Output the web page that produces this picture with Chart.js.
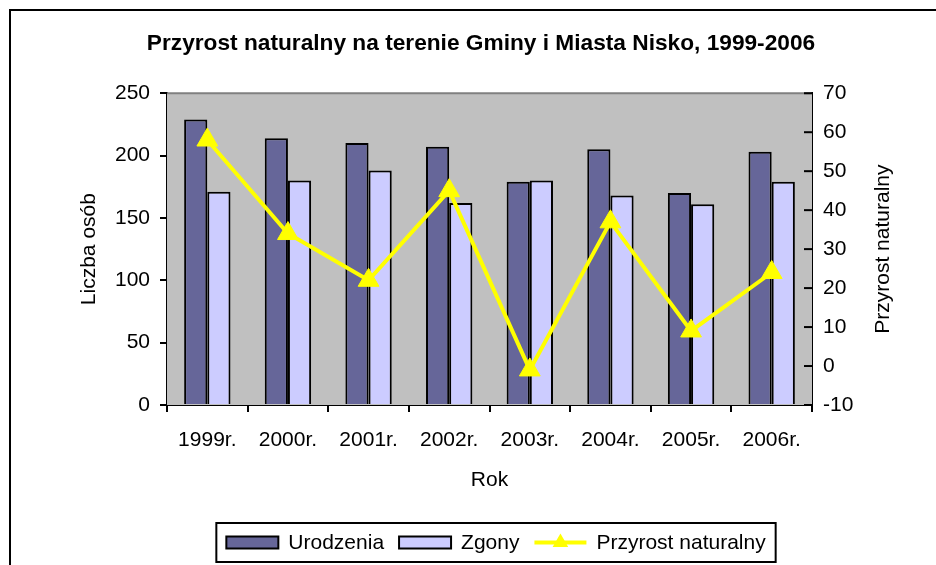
<!DOCTYPE html>
<html>
<head>
<meta charset="utf-8">
<script src="https://cdn.jsdelivr.net/npm/chart.js@4.4.1/dist/chart.umd.min.js"></script>
<style>
html, body { margin: 0; padding: 0; background: #fff; }
#wrap { width: 936px; height: 565px; }
</style>
</head>
<body>
<div id="wrap"><canvas id="chart" width="936" height="565"></canvas></div>
<script>
// dane
const years = ['1999r.', '2000r.', '2001r.', '2002r.', '2003r.', '2004r.', '2005r.', '2006r.'];
const urodzenia = [229, 214, 210, 207, 179, 205, 170, 203];
const zgony = [171, 180, 188, 162, 180, 168, 161, 179];
const przyrost = [58, 34, 22, 45, -1, 37, 9, 24];

const leftMin = 0, leftMax = 250, leftStep = 50;
const rightMin = -10, rightMax = 70, rightStep = 10;

const FONT = '"Liberation Sans", Arial, sans-serif';
Chart.defaults.font.family = FONT;
Chart.defaults.font.size = 21;
Chart.defaults.color = '#000';

// tlo, ramka, tytul prawej osi i legenda
const excelLook = {
    id: 'excelLook',
    beforeDatasetsDraw(chart) {
        const {ctx, chartArea: a} = chart;
        ctx.save();
        ctx.fillStyle = '#C0C0C0';
        ctx.fillRect(a.left, a.top, a.right - a.left, a.bottom - a.top);
        ctx.strokeStyle = '#808080';
        ctx.lineWidth = 2;
        ctx.beginPath();
        ctx.moveTo(a.left, a.top);
        ctx.lineTo(a.right, a.top);
        ctx.stroke();
        // kreski prawej osi do srodka
        const y1 = chart.scales.y1;
        ctx.strokeStyle = '#000';
        ctx.lineWidth = 2;
        y1.ticks.forEach(t => {
            const py = y1.getPixelForValue(t.value);
            ctx.beginPath();
            ctx.moveTo(a.right - 8, py);
            ctx.lineTo(a.right, py);
            ctx.stroke();
        });
        ctx.restore();
    },
    afterDraw(chart) {
        const {ctx, chartArea: a} = chart;
        ctx.save();
        // ramka zewnetrzna
        ctx.strokeStyle = '#000';
        ctx.lineWidth = 2;
        ctx.strokeRect(10, 10, chart.width + 20, chart.height + 20);

        // tytul prawej osi (czytany od dolu)
        ctx.font = '21px ' + FONT;
        ctx.fillStyle = '#000';
        ctx.textAlign = 'center';
        ctx.textBaseline = 'middle';
        ctx.translate(883, (a.top + a.bottom) / 2);
        ctx.rotate(-Math.PI / 2);
        ctx.fillText('Przyrost naturalny', 0, 0);
        ctx.restore();

        // legenda
        ctx.save();
        ctx.font = '21px ' + FONT;
        const ds = chart.data.datasets;
        const symW = 52, gapText = 10, gapItem = 15, padX = 10;
        let total = padX * 2;
        ds.forEach((d, i) => {
            total += symW + gapText + ctx.measureText(d.label).width + (i ? gapItem : 0);
        });
        const cx = 496, top = 523, h = 39, cy = top + h / 2;
        let x = cx - total / 2;
        ctx.strokeStyle = '#000';
        ctx.lineWidth = 2;
        ctx.strokeRect(x, top, total, h);
        x += padX;
        ds.forEach((d, i) => {
            if (i) x += gapItem;
            if (d.type === 'line') {
                ctx.strokeStyle = d.borderColor;
                ctx.lineWidth = 4;
                ctx.beginPath();
                ctx.moveTo(x, cy);
                ctx.lineTo(x + symW, cy);
                ctx.stroke();
                const r = 9, mx = x + symW / 2;
                ctx.fillStyle = d.borderColor;
                ctx.beginPath();
                ctx.moveTo(mx, cy - r);
                ctx.lineTo(mx + r * 0.866, cy + r / 2);
                ctx.lineTo(mx - r * 0.866, cy + r / 2);
                ctx.closePath();
                ctx.fill();
            } else {
                ctx.fillStyle = d.backgroundColor;
                ctx.fillRect(x, cy - 6, symW, 12);
                ctx.strokeStyle = '#000';
                ctx.lineWidth = 2;
                ctx.strokeRect(x, cy - 6, symW, 12);
            }
            x += symW + gapText;
            ctx.fillStyle = '#000';
            ctx.textAlign = 'left';
            ctx.textBaseline = 'middle';
            ctx.fillText(d.label, x, cy + 1);
            x += ctx.measureText(d.label).width;
        });
        ctx.restore();
    }
};

const ctx = document.getElementById('chart').getContext('2d');
const chart = new Chart(ctx, {
    type: 'bar',
    data: {
        labels: years,
        datasets: [
            {
                label: 'Urodzenia',
                data: urodzenia,
                backgroundColor: '#666699',
                borderColor: '#000',
                borderWidth: 2,
                yAxisID: 'y',
                order: 1
            },
            {
                label: 'Zgony',
                data: zgony,
                backgroundColor: '#CCCCFF',
                borderColor: '#000',
                borderWidth: 2,
                yAxisID: 'y',
                order: 1
            },
            {
                type: 'line',
                label: 'Przyrost naturalny',
                data: przyrost,
                borderColor: '#FFFF00',
                backgroundColor: '#FFFF00',
                borderWidth: 4,
                pointStyle: 'triangle',
                pointRadius: 12,
                pointBorderWidth: 1,
                pointBackgroundColor: '#FFFF00',
                pointBorderColor: '#FFFF00',
                tension: 0,
                yAxisID: 'y1',
                order: 0
            }
        ]
    },
    options: {
        responsive: false,
        animation: false,
        layout: { padding: { left: 26, right: 0, top: 0, bottom: 65 } },
        datasets: {
            bar: { categoryPercentage: 0.575, barPercentage: 1.0 }
        },
        plugins: {
            legend: { display: false },
            tooltip: { enabled: false },
            title: {
                display: true,
                text: 'Przyrost naturalny na terenie Gminy i Miasta Nisko, 1999-2006',
                color: '#000',
                font: { size: 22.7, weight: 'bold' },
                padding: { top: 30, bottom: 36 }
            }
        },
        scales: {
            x: {
                grid: { drawOnChartArea: false, tickLength: 7, color: '#000', lineWidth: 2 },
                border: { color: '#000', width: 2 },
                ticks: { padding: 16, maxRotation: 0 },
                title: { display: true, text: 'Rok', padding: { top: 0, bottom: 7 } },
                afterFit(s) { s.height = 95; }
            },
            y: {
                position: 'left',
                min: leftMin,
                max: leftMax,
                ticks: { stepSize: leftStep, padding: 10 },
                grid: { drawOnChartArea: false, tickLength: 7, color: '#000', lineWidth: 2 },
                border: { color: '#000', width: 2 },
                title: { display: true, text: 'Liczba osób', padding: { top: 51, bottom: 0 } },
                afterFit(s) { s.width = 141; }
            },
            y1: {
                position: 'right',
                min: rightMin,
                max: rightMax,
                ticks: { stepSize: rightStep, padding: 11 },
                grid: { drawOnChartArea: false, drawTicks: false },
                border: { color: '#000', width: 2 },
                afterFit(s) { s.width = 124; }
            }
        }
    },
    plugins: [excelLook]
});
</script>
</body>
</html>
